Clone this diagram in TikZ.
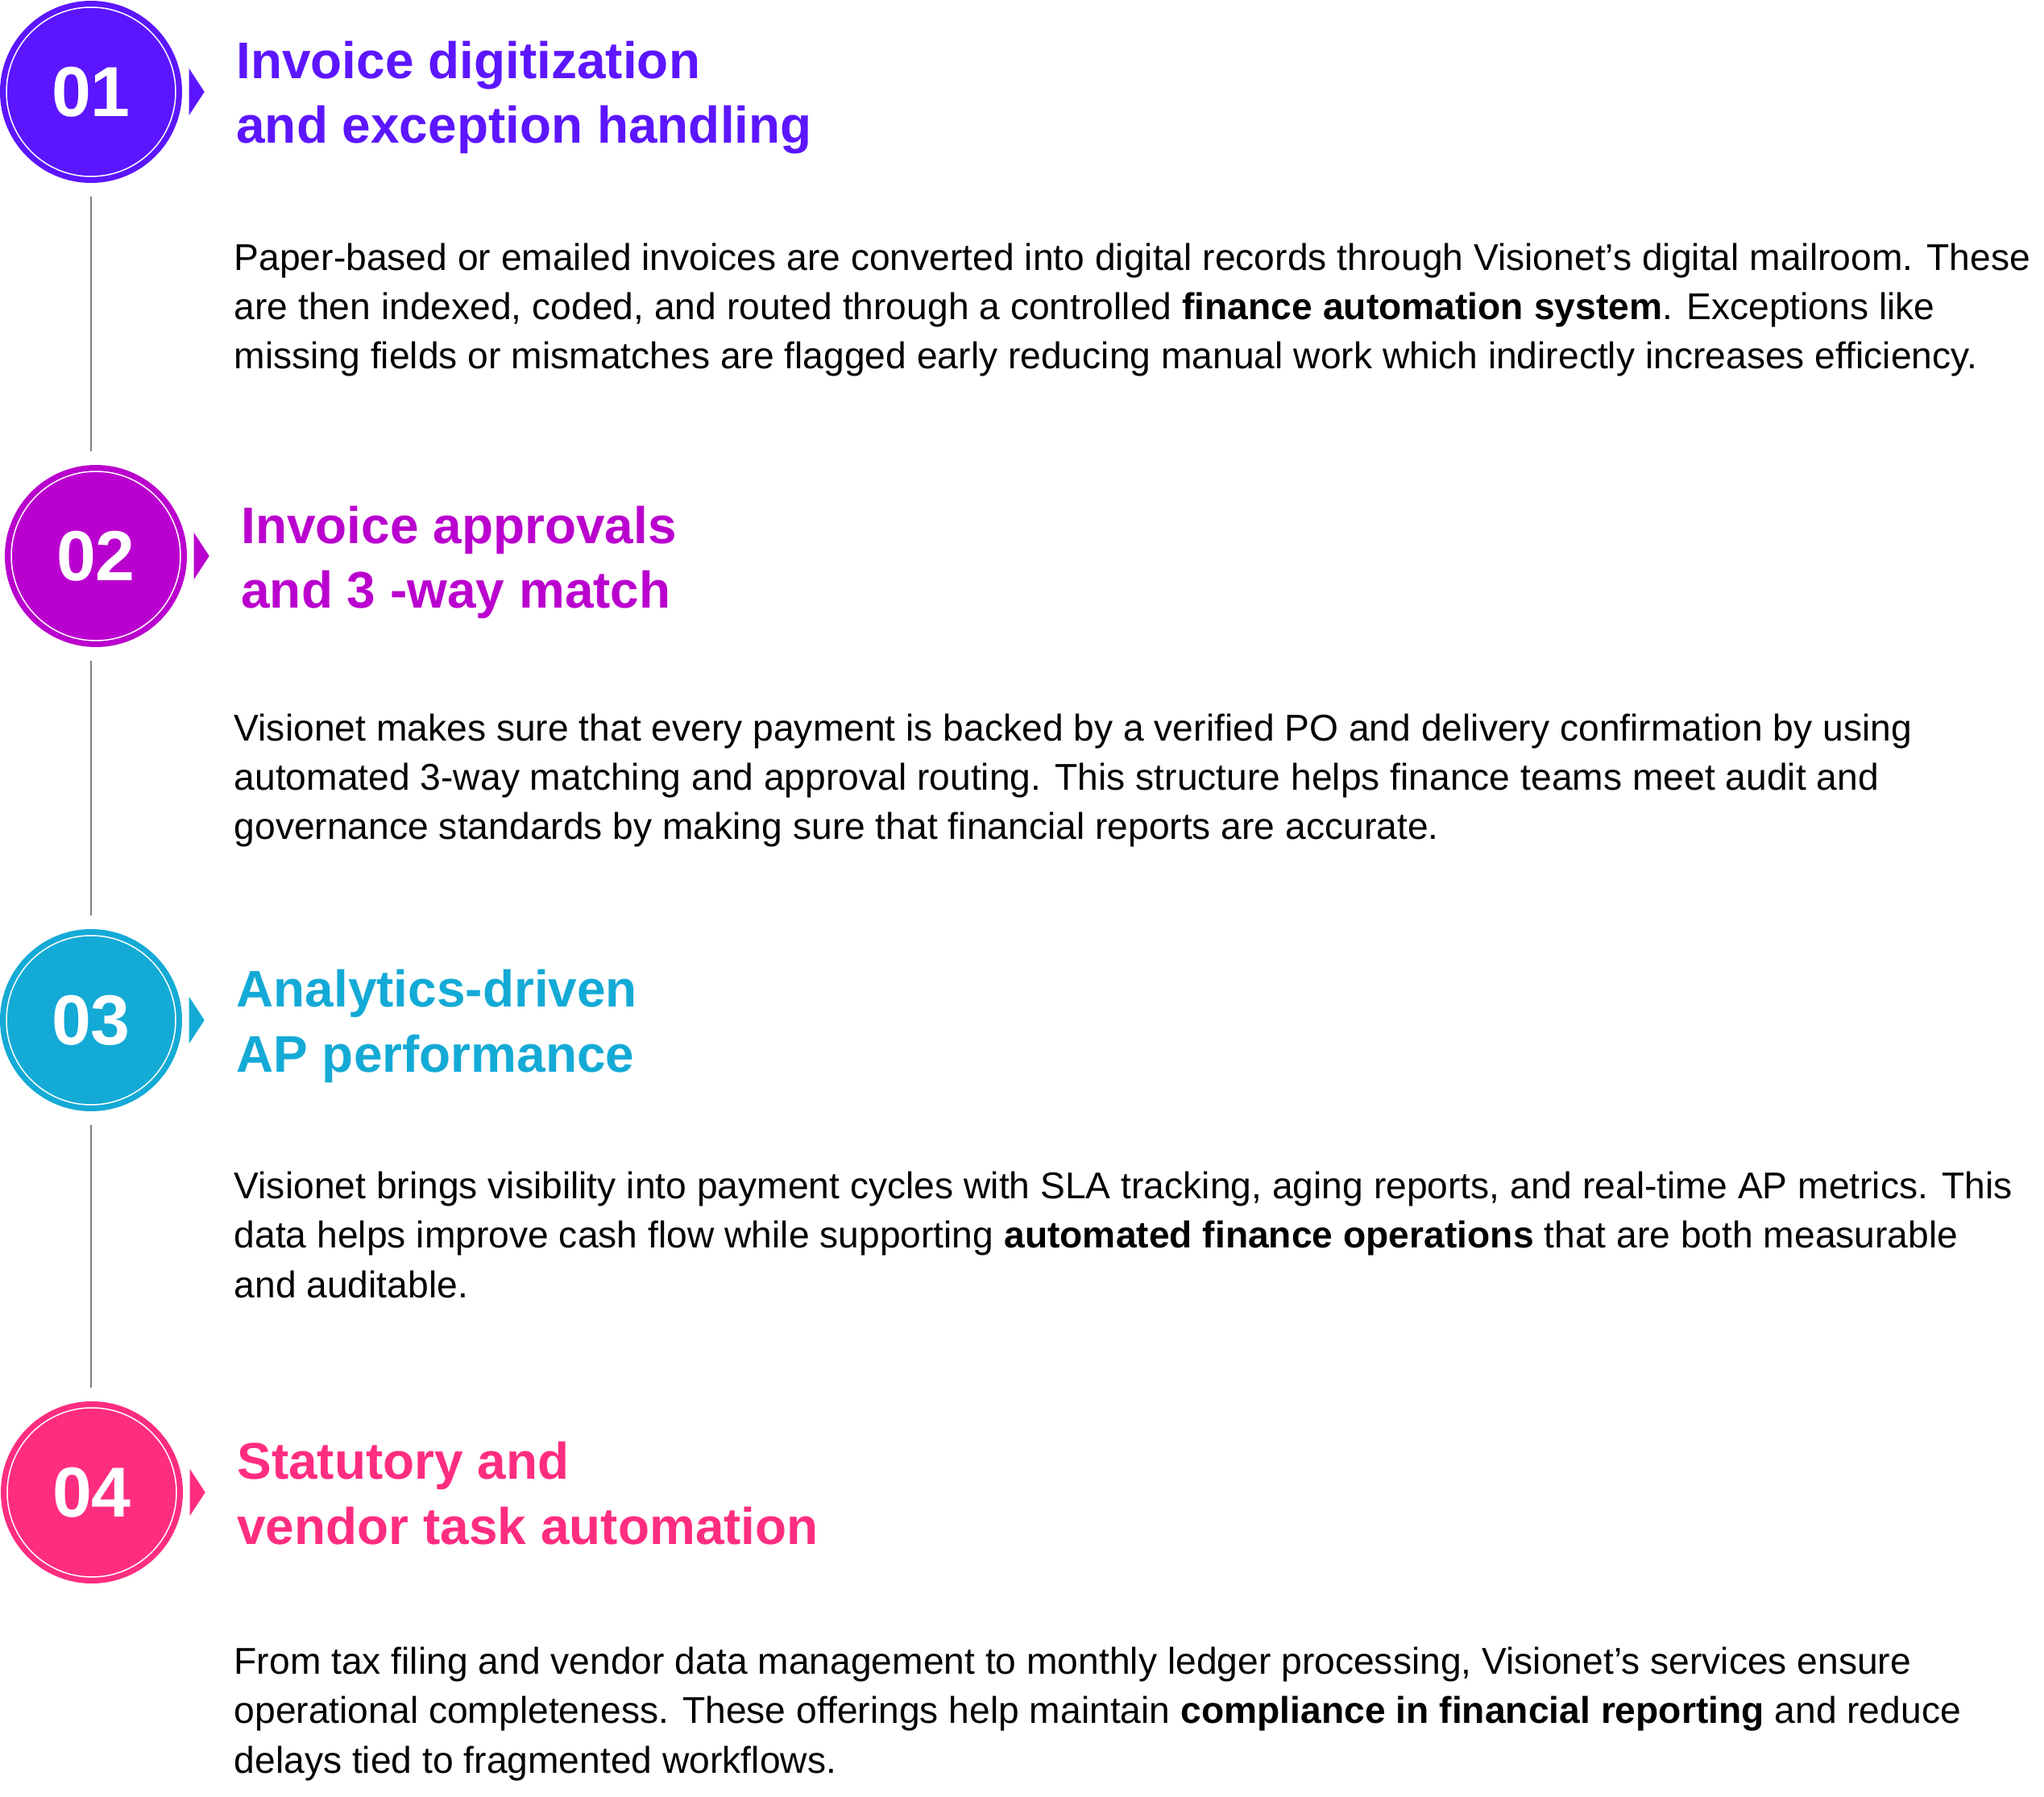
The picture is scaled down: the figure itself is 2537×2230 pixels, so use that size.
\documentclass[tikz,border=0pt]{standalone}
\usepackage{fontspec}
\setmainfont{Liberation Sans}
\usetikzlibrary{positioning}
\definecolor{violetone}{RGB}{92,22,255}
\definecolor{magentatwo}{RGB}{186,0,206}
\definecolor{cyanthree}{RGB}{20,170,214}
\definecolor{pinkfour}{RGB}{255,45,128}
\definecolor{linkgray}{RGB}{125,125,125}

\begin{document}
\begin{tikzpicture}[x=0.1mm, y=-0.1mm,
  stepnum/.style={circle, inner sep=0, minimum size=22.6mm, text=white, font=\fontsize{25}{25}\selectfont\bfseries},
  ring/.style={draw=white, line width=0.15mm},
  heading/.style={anchor=base west, align=left, inner sep=0, font=\fontsize{18.2}{23}\selectfont\bfseries},
  body/.style={anchor=base west, align=left, inner sep=0, font=\fontsize{13.15}{17.36}\selectfont},
  link/.style={draw=linkgray, line width=0.2mm, shorten <=1.6mm, shorten >=1.6mm}]
\useasboundingbox (0,0) rectangle (2537,2230);

% step circles
\node[stepnum, fill=violetone] (one) at (113, 114) {01};
\node[stepnum, fill=magentatwo] (two) at (119, 690) {02};
\node[stepnum, fill=cyanthree] (three) at (113, 1266) {03};
\node[stepnum, fill=pinkfour] (four) at (114, 1852) {04};
\draw[ring] (one) circle[radius=10.5mm];
\draw[ring] (two) circle[radius=10.5mm];
\draw[ring] (three) circle[radius=10.5mm];
\draw[ring] (four) circle[radius=10.5mm];

% little pointers
\fill[violetone] ([xshift=0.8mm, yshift=2.9mm]one.east) -- ++(19,29) -- ++(-19,29) -- cycle;
\fill[magentatwo] ([xshift=0.8mm, yshift=2.9mm]two.east) -- ++(19,29) -- ++(-19,29) -- cycle;
\fill[cyanthree] ([xshift=0.8mm, yshift=2.9mm]three.east) -- ++(19,29) -- ++(-19,29) -- cycle;
\fill[pinkfour] ([xshift=0.8mm, yshift=2.9mm]four.east) -- ++(19,29) -- ++(-19,29) -- cycle;

% connectors
\draw[link] (one.south) -- (one.south |- two.north);
\draw[link] (one.south |- two.south) -- (one.south |- three.north);
\draw[link] (three.south) -- (three.south |- four.north);

% headings (anchored on their second line)
\node[heading, text=violetone] (onetitle) at ([xshift=6.6mm, yshift=-6.4mm]one.east) {Invoice digitization\\and exception handling};
\node[heading, text=magentatwo] (twotitle) at ([xshift=6.6mm, yshift=-6.5mm]two.east) {Invoice approvals\\and 3 -way match};
\node[heading, text=cyanthree] (threetitle) at ([xshift=6.6mm, yshift=-6.4mm]three.east) {Analytics-driven\\AP performance};
\node[heading, text=pinkfour] (fourtitle) at ([xshift=6.6mm, yshift=-6.4mm]four.east) {Statutory and\\vendor task automation};

% texts (anchored on their last line)
\node[body] (onetext) at (290, 458) {Paper-based or emailed invoices are converted into digital records through Visionet’s digital mailroom. These\\are then indexed, coded, and routed through a controlled \textbf{finance automation system}. Exceptions like\\missing fields or mismatches are flagged early reducing manual work which indirectly increases efficiency.};
\node[body] (twotext) at (290, 1042) {Visionet makes sure that every payment is backed by a verified PO and delivery confirmation by using\\automated 3-way matching and approval routing. This structure helps finance teams meet audit and\\governance standards by making sure that financial reports are accurate.};
\node[body] (threetext) at (290, 1610) {Visionet brings visibility into payment cycles with SLA tracking, aging reports, and real-time AP metrics. This\\data helps improve cash flow while supporting \textbf{automated finance operations} that are both measurable\\and auditable.};
\node[body] (fourtext) at (290, 2200) {From tax filing and vendor data management to monthly ledger processing, Visionet’s services ensure\\operational completeness. These offerings help maintain \textbf{compliance in financial reporting} and reduce\\delays tied to fragmented workflows.};
\end{tikzpicture}
\end{document}
